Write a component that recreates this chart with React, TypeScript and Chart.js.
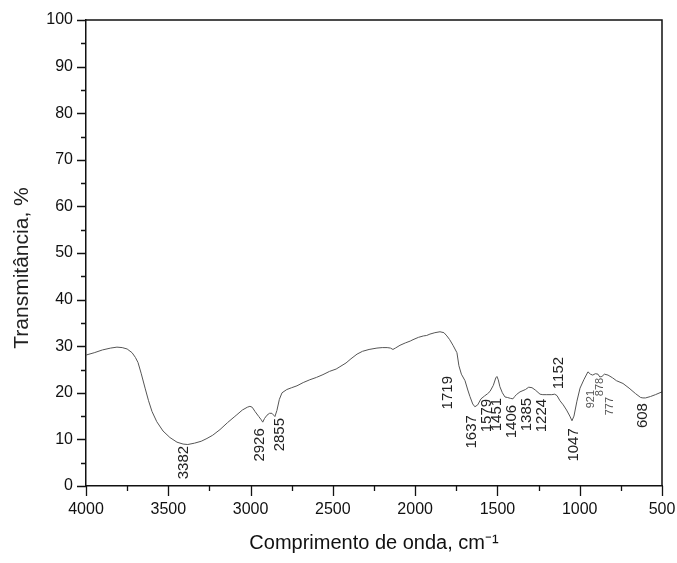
import React, { useEffect, useRef } from 'react';
import { Chart, registerables } from 'chart.js';

Chart.register(...registerables);

const FONT = "'Liberation Sans', Arial, Helvetica, sans-serif";

// FTIR spectrum: wavenumber (cm-1) and transmittance (%)
const wavenumbers = [
  4000, 3950, 3900, 3850, 3812, 3780, 3750, 3720, 3700, 3684, 3665, 3641, 3620, 3599, 3570, 3532,
  3490, 3447, 3410, 3382, 3340, 3300, 3265, 3230, 3186, 3140, 3100, 3083, 3050, 3020, 3004, 2990,
  2973, 2950, 2935, 2926, 2915, 2900, 2885, 2870, 2860, 2852, 2840, 2825, 2809, 2780, 2750, 2718,
  2680, 2640, 2600, 2560, 2520, 2480, 2457, 2420, 2390, 2353, 2320, 2280, 2232, 2200, 2170, 2150,
  2135, 2120, 2092, 2060, 2030, 2013, 1980, 1950, 1930, 1910, 1880, 1849, 1825, 1807, 1790, 1770,
  1746, 1734, 1719, 1697, 1680, 1667, 1650, 1637, 1620, 1600, 1579, 1560, 1545, 1525, 1510, 1503,
  1495, 1485, 1470, 1454, 1440, 1420, 1406, 1395, 1385, 1363, 1330, 1310, 1290, 1270, 1241, 1224,
  1200, 1170, 1152, 1138, 1120, 1100, 1080, 1060, 1047, 1035, 1017, 998, 975, 950, 935, 921,
  905, 889, 878, 865, 850, 828, 800, 777, 737, 700, 660, 630, 616, 600, 570, 540, 500,
];
const transmittance = [
  28.1, 28.6, 29.2, 29.6, 29.8, 29.7, 29.4, 28.6, 27.6, 26.5, 24.2, 21.0, 18.3, 16.0, 13.8, 11.8,
  10.4, 9.4, 9.0, 8.9, 9.2, 9.6, 10.2, 10.9, 12.1, 13.6, 14.8, 15.3, 16.3, 16.9, 17.1, 16.9,
  16.0, 14.9, 14.2, 13.7, 14.5, 15.2, 15.6, 15.6, 15.2, 14.9, 16.2, 18.6, 20.0, 20.7, 21.1, 21.5,
  22.2, 22.8, 23.3, 23.9, 24.6, 25.1, 25.6, 26.4, 27.3, 28.3, 28.9, 29.3, 29.6, 29.7, 29.7, 29.6,
  29.3, 29.6, 30.2, 30.7, 31.1, 31.4, 31.9, 32.2, 32.3, 32.6, 32.9, 33.1, 32.9, 32.2, 31.4, 30.2,
  28.6, 25.8, 24.0, 22.6, 20.6, 19.2, 17.6, 17.0, 17.4, 18.7, 19.3, 19.8, 20.3, 21.6, 23.2, 23.5,
  22.8, 21.3, 20.0, 19.1, 19.0, 18.8, 18.7, 19.2, 19.6, 20.2, 20.7, 21.2, 21.1, 20.6, 19.7, 19.6,
  19.6, 19.6, 19.7, 19.4, 18.3, 17.4, 16.3, 15.0, 14.0, 15.0, 18.2, 21.0, 22.8, 24.5, 24.0, 23.8,
  24.1, 24.0, 23.4, 23.5, 24.0, 23.8, 23.2, 22.6, 22.0, 21.0, 19.8, 19.0, 18.9, 18.9, 19.2, 19.6, 20.2,
];

// Peak annotations: label, wavenumber where the label sits, transmittance at the label's upper end
const peakLabels = ['3382', '2926', '2855', '1719', '1637', '1579', '1451', '1406', '1385', '1224', '1152', '1047', '921', '878', '777', '608'];
const peakLabelWavenumber = [3405, 2943, 2821, 1800, 1655, 1564, 1503, 1412, 1321, 1229, 1126, 1035, 932, 877, 816, 616];
const peakLabelTop = [8.6, 12.4, 14.6, 23.6, 15.2, 18.7, 18.9, 17.4, 18.9, 18.7, 27.7, 12.4, 20.6, 23.2, 19.1, 17.8];
const smallPeakLabels = ['921', '878', '777'];

const xMin = 500;
const xMax = 4000;
const xMajorStep = 500;
const yMin = 0;
const yMax = 100;
const yMajorStep = 10;

const framePlugin = {
  id: 'frameAndLabels',
  afterDraw(chart: any) {
    const { ctx, chartArea: a, scales } = chart;
    const xs = scales.x;
    const ys = scales.y;
    ctx.save();
    // frame top & right
    ctx.strokeStyle = '#111';
    ctx.lineWidth = 1.5;
    ctx.beginPath();
    ctx.moveTo(a.left, a.top);
    ctx.lineTo(a.right, a.top);
    ctx.lineTo(a.right, a.bottom);
    ctx.stroke();
    // ticks (major + minor), outward
    ctx.lineWidth = 1.3;
    ctx.beginPath();
    for (let v = xMin; v <= xMax; v += xMajorStep / 2) {
      const px = Math.round(xs.getPixelForValue(v)) + 0.5;
      const len = v % xMajorStep === 0 ? 10 : 5;
      ctx.moveTo(px, a.bottom);
      ctx.lineTo(px, a.bottom + len);
    }
    for (let v = yMin; v <= yMax; v += yMajorStep / 2) {
      const py = Math.round(ys.getPixelForValue(v)) + 0.5;
      const len = v % yMajorStep === 0 ? 9 : 5;
      ctx.moveTo(a.left, py);
      ctx.lineTo(a.left - len, py);
    }
    ctx.stroke();

    // peak labels (rotated)
    for (let i = 0; i < peakLabels.length; i++) {
      const small = smallPeakLabels.includes(peakLabels[i]);
      const px = xs.getPixelForValue(peakLabelWavenumber[i]);
      const py = ys.getPixelForValue(peakLabelTop[i]);
      ctx.save();
      ctx.translate(px, py);
      ctx.rotate(-Math.PI / 2);
      ctx.font = `${small ? 11 : 15}px ${FONT}`;
      ctx.fillStyle = small ? '#555' : '#222';
      ctx.textAlign = 'right';
      ctx.textBaseline = 'middle';
      ctx.fillText(peakLabels[i], 0, 0);
      ctx.restore();
    }

    // y axis title
    ctx.save();
    ctx.translate(22, 268);
    ctx.rotate(-Math.PI / 2);
    ctx.font = `21px ${FONT}`;
    ctx.fillStyle = '#222';
    ctx.textAlign = 'center';
    ctx.textBaseline = 'middle';
    ctx.fillText('Transmitância, %', 0, 0);
    ctx.restore();

    ctx.restore();
  },
};

export default function App() {
  const canvasRef = useRef<HTMLCanvasElement | null>(null);

  useEffect(() => {
    if (!canvasRef.current) return;
    const points = wavenumbers.map((w, i) => ({ x: w, y: transmittance[i] }));
    const chart = new Chart(canvasRef.current, {
      type: 'line',
      data: {
        datasets: [
          {
            data: points,
            borderColor: '#555',
            borderWidth: 1,
            pointRadius: 0,
            tension: 0,
            fill: false,
          },
        ],
      },
      options: {
        animation: false,
        responsive: true,
        maintainAspectRatio: false,
        parsing: true,
        layout: { padding: { top: 20, right: 15, left: 0, bottom: 0 } },
        plugins: {
          legend: { display: false },
          tooltip: { enabled: false },
        },
        scales: {
          x: {
            type: 'linear',
            reverse: true,
            min: xMin,
            max: xMax,
            grid: { display: false, drawTicks: false },
            border: { display: true, color: '#111', width: 1.5 },
            ticks: {
              stepSize: xMajorStep,
              padding: 14,
              color: '#111',
              font: { family: FONT, size: 16 },
              maxRotation: 0,
              autoSkip: false,
              callback: (v: any) => String(v),
            },
            title: {
              display: true,
              text: 'Comprimento de onda, cm⁻¹',
              color: '#111',
              font: { family: FONT, size: 20 },
              padding: { top: 0, bottom: 8 },
            },
            afterFit: (scale: any) => {
              scale.height = 77;
              scale.paddingLeft = 0;
              scale.paddingRight = 0;
            },
          },
          y: {
            type: 'linear',
            min: yMin,
            max: yMax,
            grid: { display: false, drawTicks: false },
            border: { display: true, color: '#111', width: 1.5 },
            ticks: {
              stepSize: yMajorStep,
              padding: 13,
              color: '#111',
              font: { family: FONT, size: 16 },
              callback: (v: any) => String(v),
            },
            afterFit: (scale: any) => {
              scale.width = 86;
              scale.paddingTop = 0;
              scale.paddingBottom = 0;
            },
          },
        },
      },
      plugins: [framePlugin],
    });
    return () => chart.destroy();
  }, []);

  return (
    <div style={{ position: 'fixed', left: 0, top: 0, width: '677px', height: '563px', background: '#fff' }}>
      <canvas ref={canvasRef} />
    </div>
  );
}
